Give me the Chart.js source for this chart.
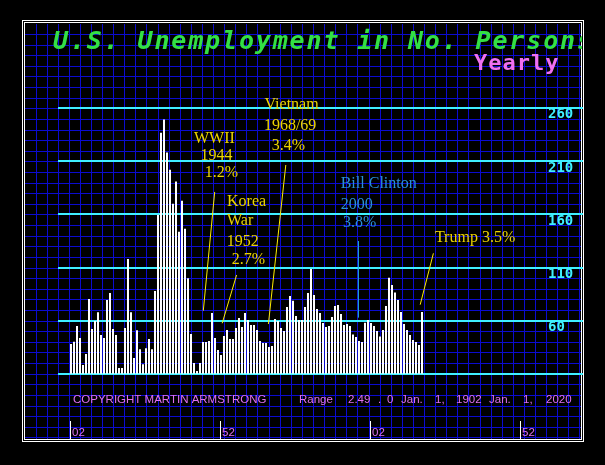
<!DOCTYPE html>
<html><head><meta charset="utf-8">
<script src="https://cdn.jsdelivr.net/npm/chart.js@4.4.1/dist/chart.umd.min.js"></script>
<style>html,body{margin:0;padding:0;background:#000;overflow:hidden;}canvas{display:block;}</style>
</head><body>
<canvas id="c" width="605" height="465"></canvas>
<script>
// ---------------- DATA ----------------
const years = [
  1902,1903,1904,1905,1906,1907,1908,1909,
  1910,1911,1912,1913,1914,1915,1916,1917,1918,1919,
  1920,1921,1922,1923,1924,1925,1926,1927,1928,1929,
  1930,1931,1932,1933,1934,1935,1936,1937,1938,1939,
  1940,1941,1942,1943,1944,1945,1946,1947,1948,1949,
  1950,1951,1952,1953,1954,1955,1956,1957,1958,1959,
  1960,1961,1962,1963,1964,1965,1966,1967,1968,1969,
  1970,1971,1972,1973,1974,1975,1976,1977,1978,1979,
  1980,1981,1982,1983,1984,1985,1986,1987,1988,1989,
  1990,1991,1992,1993,1994,1995,1996,1997,1998,1999,
  2000,2001,2002,2003,2004,2005,2006,2007,2008,2009,
  2010,2011,2012,2013,2014,2015,2016,2017,2018,2019
];
const unemployed = [
  38, 40, 55, 43.6, 18.2, 28.6, 80.4, 52,
  59.7, 68, 46.5, 43.6, 79.5, 86, 52, 46.5, 15.3, 15.3,
  53, 118, 68, 24.7, 51, 33, 19, 34, 42.6, 33,
  88, 159.5, 237, 249.5, 218.3, 202.2, 170, 191, 143.7, 173,
  146.5, 100, 47.4, 20, 12.5, 20, 39.9, 39.9, 40.8, 67.2,
  43.6, 32.3, 27.6, 45.5, 51.2, 42.7, 42.7, 53, 62.5, 54,
  67.2, 60.6, 55.9, 55.9, 51.2, 40.8, 38.9, 38.9, 35.2, 36.1,
  61.6, 59.7, 53.1, 50.3, 72.9, 83.3, 78.6, 64.4, 60.6, 60.6,
  72.9, 86.1, 108.7, 84.2, 71, 67.2, 57.8, 54, 55, 63.5,
  73.8, 74.8, 66.3, 55.9, 56.9, 55, 47, 44.6, 40.8, 39.9,
  58, 60.5, 57.8, 55, 50.3, 45, 51.2, 73.8, 100.3, 93.6,
  86.5, 79.5, 68.2, 56.9, 51.2, 46.5, 41.8, 39.9, 37, 68.2
];
const yTicks = [10, 60, 110, 160, 210, 260];
const yTickLabels = ['', '60', '110', '160', '210', '260'];
const xTicks = [1902, 1952, 2002, 2052];
const xTickLabels = ['02', '52', '02', '52'];
const yRange = [10, 260];
const xRange = [1897.6667, 2060];

const titleText = 'U.S. Unemployment in No. Persons';
const subtitleText = 'Yearly';
const footerLeft = 'COPYRIGHT MARTIN ARMSTRONG';
const footerRight = 'Range  2.49 . 0 Jan.  1,  1902 Jan.  1,  2020';

// annotation texts: [text, year (left edge), value (middle)]
const noteTexts = ['WWII', '1944', '1.2%', 'Korea', 'War', '1952', '2.7%', 'Vietnam', '1968/69', '3.4%', 'Bill Clinton', '2000', '3.8%', 'Trump 3.5%'];
const noteYears = [1943, 1945.2, 1946.6, 1954, 1954, 1953.9, 1955.6, 1966.5, 1966.3, 1968.9, 1991.9, 1991.9, 1992.7, 2023.3];
const noteValues = [231.6, 215.1, 199.5, 172.2, 153.8, 134.3, 117.1, 263.1, 243.3, 225.1, 188.7, 168.9, 152, 137.8];
const noteIsBlue = [false, false, false, false, false, false, false, false, false, false, true, true, true, false];

// pointer lines: from (year,value) to (year,value)
const pointerFromYear = [1949.9, 1957.2, 1973.6, 1997.8, 2022.8];
const pointerFromValue = [181.2, 103, 206.6, 135, 123.4];
const pointerToYear = [1946.1, 1952.4, 1967.8, 1997.8, 2018.4];
const pointerToValue = [69.3, 57.5, 56.8, 62.8, 75];
const pointerIsBlue = [false, false, false, true, false];

// ---------------- STYLE ----------------
const COL_BLUE_GRID = '#0b0bd0';
const COL_CYAN = '#3ff0ff';
const COL_YELLOW = '#ecd400';
const COL_YLINE = '#ffee00';
const COL_BTEXT = '#2a8fd8';
const COL_BLINE = '#22b4e6';
const COL_PINK = '#e070f0';
// x positions of the words in the footer range text (layout only)
const FOOTER_WORD_X = [299, 348, 378, 387, 401, 435, 456, 489, 523, 546];

const decor = {
  id: 'decor',
  beforeDraw(chart) {
    const ctx = chart.ctx;
    ctx.save();
    ctx.fillStyle = '#000';
    ctx.fillRect(0, 0, chart.width, chart.height);
    // blue background grid inside the frame
    ctx.strokeStyle = COL_BLUE_GRID;
    ctx.lineWidth = 1;
    ctx.beginPath();
    for (let x = 35.5; x < 582; x += 11.1) {
      const px = Math.round(x) + 0.5;
      ctx.moveTo(px, 24); ctx.lineTo(px, 439);
    }
    for (let y = 373.7 - 10.616 * 33; y < 439; y += 10.616) {
      if (y < 24) continue;
      const py = Math.round(y) + 0.5;
      ctx.moveTo(25, py); ctx.lineTo(582, py);
    }
    ctx.stroke();
    // double white frame
    ctx.strokeStyle = '#ffffff';
    ctx.lineWidth = 1;
    ctx.strokeRect(22.5, 20.5, 561, 421);
    ctx.strokeRect(24.5, 22.5, 557, 417);
    ctx.restore();
  },
  afterDraw(chart) {
    const ctx = chart.ctx;
    const xs = chart.scales.x, ys = chart.scales.y;
    ctx.save();
    // title (clipped by frame)
    ctx.save();
    ctx.beginPath();
    ctx.rect(25, 23, 557, 416);
    ctx.clip();
    ctx.font = 'italic bold 25px "DejaVu Sans Mono"';
    ctx.letterSpacing = '1.85px';
    ctx.fillStyle = '#33e044';
    ctx.textBaseline = 'alphabetic';
    ctx.textAlign = 'left';
    ctx.fillText(titleText, 53, 49);
    ctx.font = 'bold 22px "DejaVu Sans Mono"';
    ctx.letterSpacing = '1px';
    ctx.fillStyle = '#f070f0';
    ctx.fillText(subtitleText, 474, 70);
    ctx.restore();
    ctx.letterSpacing = '0px';

    // footer line
    ctx.font = '11.5px "Liberation Sans"';
    ctx.fillStyle = COL_PINK;
    ctx.textBaseline = 'middle';
    ctx.textAlign = 'left';
    ctx.fillText(footerLeft, 73, 399.5);
    footerRight.split(/\s+/).forEach((w, i) => {
      ctx.fillText(w, FOOTER_WORD_X[i], 399.5);
    });

    // white x tick marks
    ctx.strokeStyle = '#ffffff';
    ctx.lineWidth = 1;
    ctx.beginPath();
    xTicks.forEach(v => {
      const px = Math.round(xs.getPixelForValue(v)) - 0.5;
      ctx.moveTo(px, 421); ctx.lineTo(px, 440);
    });
    ctx.stroke();

    // pointer lines
    ctx.lineWidth = 1;
    pointerFromYear.forEach((fy, i) => {
      ctx.strokeStyle = pointerIsBlue[i] ? COL_BLINE : COL_YLINE;
      ctx.beginPath();
      ctx.moveTo(xs.getPixelForValue(fy), ys.getPixelForValue(pointerFromValue[i]));
      ctx.lineTo(xs.getPixelForValue(pointerToYear[i]), ys.getPixelForValue(pointerToValue[i]));
      ctx.stroke();
    });

    // annotation texts
    ctx.font = '16px "Liberation Serif"';
    ctx.textBaseline = 'middle';
    ctx.textAlign = 'left';
    noteTexts.forEach((t, i) => {
      ctx.fillStyle = noteIsBlue[i] ? COL_BTEXT : COL_YELLOW;
      ctx.fillText(t, xs.getPixelForValue(noteYears[i]), ys.getPixelForValue(noteValues[i]));
    });
    ctx.restore();
  }
};

const chart = new Chart(document.getElementById('c'), {
  type: 'bar',
  data: {
    datasets: [{
      label: 'Unemployed',
      data: years.map((yr, i) => ({ x: yr, y: unemployed[i] })),
      backgroundColor: '#ffffff',
      borderWidth: 0,
      inflateAmount: 0,
      barThickness: 2
    }]
  },
  options: {
    responsive: false,
    animation: false,
    events: [],
    layout: { padding: { left: 58, top: 108.3, right: 22, bottom: 0 } },
    plugins: { legend: { display: false }, tooltip: { enabled: false }, title: { display: false } },
    scales: {
      x: {
        type: 'linear',
        min: xRange[0], max: xRange[1],
        offset: false,
        afterBuildTicks(s) { s.ticks = xTicks.map(v => ({ value: v })); },
        afterFit(s) { s.height = 91.3; },
        grid: { display: false, drawTicks: false },
        border: { display: false },
        ticks: {
          color: COL_PINK,
          font: { family: 'Liberation Sans', size: 11.5 },
          padding: 52,
          align: 'start',
          labelOffset: 1,
          autoSkip: false,
          maxRotation: 0,
          callback: (v, i) => xTickLabels[i]
        }
      },
      y: {
        type: 'linear',
        position: 'right',
        min: yRange[0], max: yRange[1],
        afterBuildTicks(s) { s.ticks = yTicks.map(v => ({ value: v })); },
        afterFit(s) { s.width = 38; },
        grid: { color: COL_CYAN, lineWidth: 2, drawTicks: true, tickLength: 38, tickColor: COL_CYAN },
        border: { display: false },
        ticks: {
          color: COL_CYAN,
          font: { family: 'DejaVu Sans Mono', size: 14, weight: 'bold' },
          padding: -35,
          labelOffset: 6.5,
          callback: (v, i) => yTickLabels[i]
        }
      }
    }
  },
  plugins: [decor]
});
</script>
</body></html>
